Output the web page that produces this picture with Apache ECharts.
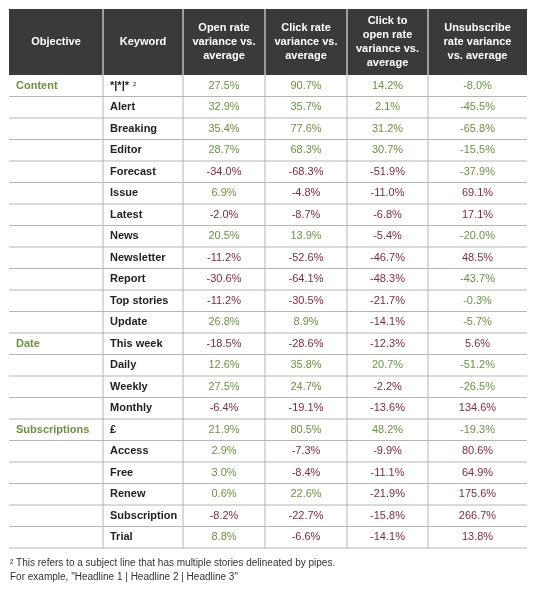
<!DOCTYPE html>
<html><head><meta charset="utf-8">
<script src="https://cdn.jsdelivr.net/npm/echarts@6/dist/echarts.min.js"></script>
<style>html,body{margin:0;background:#fff}#c{width:535px;height:615px}</style>
</head><body><div id="c"></div>
<script>
var headers = ['Objective', 'Keyword', 'Open rate\nvariance vs.\naverage', 'Click rate\nvariance vs.\naverage', 'Click to\nopen rate\nvariance vs.\naverage', 'Unsubscribe\nrate variance\nvs. average'];
var objectives = ['Content', '', '', '', '', '', '', '', '', '', '', '', 'Date', '', '', '', 'Subscriptions', '', '', '', '', ''];
var keywords = ['*|*|*', 'Alert', 'Breaking', 'Editor', 'Forecast', 'Issue', 'Latest', 'News', 'Newsletter', 'Report', 'Top stories', 'Update', 'This week', 'Daily', 'Weekly', 'Monthly', '£', 'Access', 'Free', 'Renew', 'Subscription', 'Trial'];
var openRate = [27.5, 32.9, 35.4, 28.7, -34.0, 6.9, -2.0, 20.5, -11.2, -30.6, -11.2, 26.8, -18.5, 12.6, 27.5, -6.4, 21.9, 2.9, 3.0, 0.6, -8.2, 8.8];
var clickRate = [90.7, 35.7, 77.6, 68.3, -68.3, -4.8, -8.7, 13.9, -52.6, -64.1, -30.5, 8.9, -28.6, 35.8, 24.7, -19.1, 80.5, -7.3, -8.4, 22.6, -22.7, -6.6];
var ctoRate = [14.2, 2.1, 31.2, 30.7, -51.9, -11.0, -6.8, -5.4, -46.7, -48.3, -21.7, -14.1, -12.3, 20.7, -2.2, -13.6, 48.2, -9.9, -11.1, -21.9, -15.8, -14.1];
var unsubRate = [-8.0, -45.5, -65.8, -15.5, -37.9, 69.1, 17.1, -20.0, 48.5, -43.7, -0.3, -5.7, 5.6, -51.2, -26.5, 134.6, -19.3, 80.6, 64.9, 175.6, 266.7, 13.8];

// layout
var colEdges = [0, 94, 174, 256, 338, 419, 518];
var GREEN = '#6a9440', RED = '#8a2838', DARK = '#222', LINE = '#b5b5b5';
var FONT = '"Liberation Sans", "DejaVu Sans", sans-serif';

var rowIdx = keywords.map(function (k, i) { return String(i); });
var valueCols = [openRate, clickRate, ctoRate, unsubRate];

var bodyData = [];
keywords.forEach(function (k, r) {
  bodyData.push([0, r, objectives[r], 'obj']);
  bodyData.push([1, r, k, 'kw']);
  valueCols.forEach(function (arr, c) {
    var v = arr[r];
    var good = c === 3 ? v <= 0 : v >= 0;
    bodyData.push([c + 2, r, v.toFixed(1) + '%', good ? 'g' : 'r']);
  });
});
var headData = headers.map(function (h, i) { return [i, 0, h]; });

function cellRect(api, col, row) {
  var x0 = colEdges[col], x1 = colEdges[col + 1];
  var p0 = api.coord([x0, row]);
  var p1 = api.coord([x1, row]);
  var h = api.size([0, 1])[1];
  return { x: p0[0], y: p0[1] - h / 2, w: p1[0] - p0[0], h: h };
}

function renderBody(params, api) {
  var col = api.value(0), row = api.value(1);
  var txt = bodyData[params.dataIndex][2], kind = bodyData[params.dataIndex][3];
  var r = cellRect(api, col, row);
  var children = [
    { type: 'line', shape: { x1: r.x, y1: r.y + r.h, x2: r.x + r.w, y2: r.y + r.h }, style: { stroke: LINE, lineWidth: 1 } }
  ];
  if (col < 5) children.push({ type: 'line', shape: { x1: r.x + r.w, y1: r.y, x2: r.x + r.w, y2: r.y + r.h }, style: { stroke: LINE, lineWidth: 1 } });
  var color = kind === 'obj' ? GREEN : kind === 'kw' ? DARK : kind === 'g' ? GREEN : RED;
  var left = kind === 'obj' || kind === 'kw';
  children.push({
    type: 'text',
    style: {
      text: txt, x: left ? r.x + 7 : r.x + r.w / 2, y: r.y + r.h / 2,
      align: left ? 'left' : 'center', verticalAlign: 'middle',
      fill: color, font: (left ? 'bold ' : '') + '11px ' + FONT
    }
  });
  if (kind === 'kw' && row === 0) {
    children.push({ type: 'text', style: { text: '2', x: r.x + 30, y: r.y + r.h / 2 - 1, verticalAlign: 'middle', fill: DARK, font: '6px ' + FONT } });
  }
  return { type: 'group', children: children };
}

function renderHead(params, api) {
  var col = api.value(0);
  var r = cellRect(api, col, 0);
  var children = [];
  if (col < 5) children.push({ type: 'line', shape: { x1: r.x + r.w, y1: r.y, x2: r.x + r.w, y2: r.y + r.h }, style: { stroke: '#fff', lineWidth: 1 } });
  children.push({ type: 'text', style: { text: headers[col], x: r.x + r.w / 2, y: r.y + r.h / 2, align: 'center', verticalAlign: 'middle', fill: '#fff', font: 'bold 11px ' + FONT, lineHeight: 14 } });
  return { type: 'group', children: children };
}

var chart = echarts.init(document.getElementById('c'));
chart.setOption({
  animation: false,
  grid: [
    { left: 9, width: 518, top: 9, height: 66, show: true, backgroundColor: '#3a3a3a', borderWidth: 0 },
    { left: 9, width: 518, top: 75, height: 473, borderWidth: 0 }
  ],
  xAxis: [
    { gridIndex: 0, type: 'value', min: 0, max: 518, show: false },
    { gridIndex: 1, type: 'value', min: 0, max: 518, show: false }
  ],
  yAxis: [
    { gridIndex: 0, type: 'category', data: ['h'], show: false },
    { gridIndex: 1, type: 'category', data: rowIdx, inverse: true, show: false }
  ],
  series: [
    { type: 'custom', xAxisIndex: 0, yAxisIndex: 0, data: headData, renderItem: renderHead },
    { type: 'custom', xAxisIndex: 1, yAxisIndex: 1, data: bodyData, renderItem: renderBody }
  ],
  graphic: [
    { type: 'text', left: 10, top: 558, style: { text: '² This refers to a subject line that has multiple stories delineated by pipes.', fill: '#333', font: '10px ' + FONT } },
    { type: 'text', left: 10, top: 572, style: { text: 'For example, "Headline 1 | Headline 2 | Headline 3"', fill: '#333', font: '10px ' + FONT } }
  ]
});
</script></body></html>
